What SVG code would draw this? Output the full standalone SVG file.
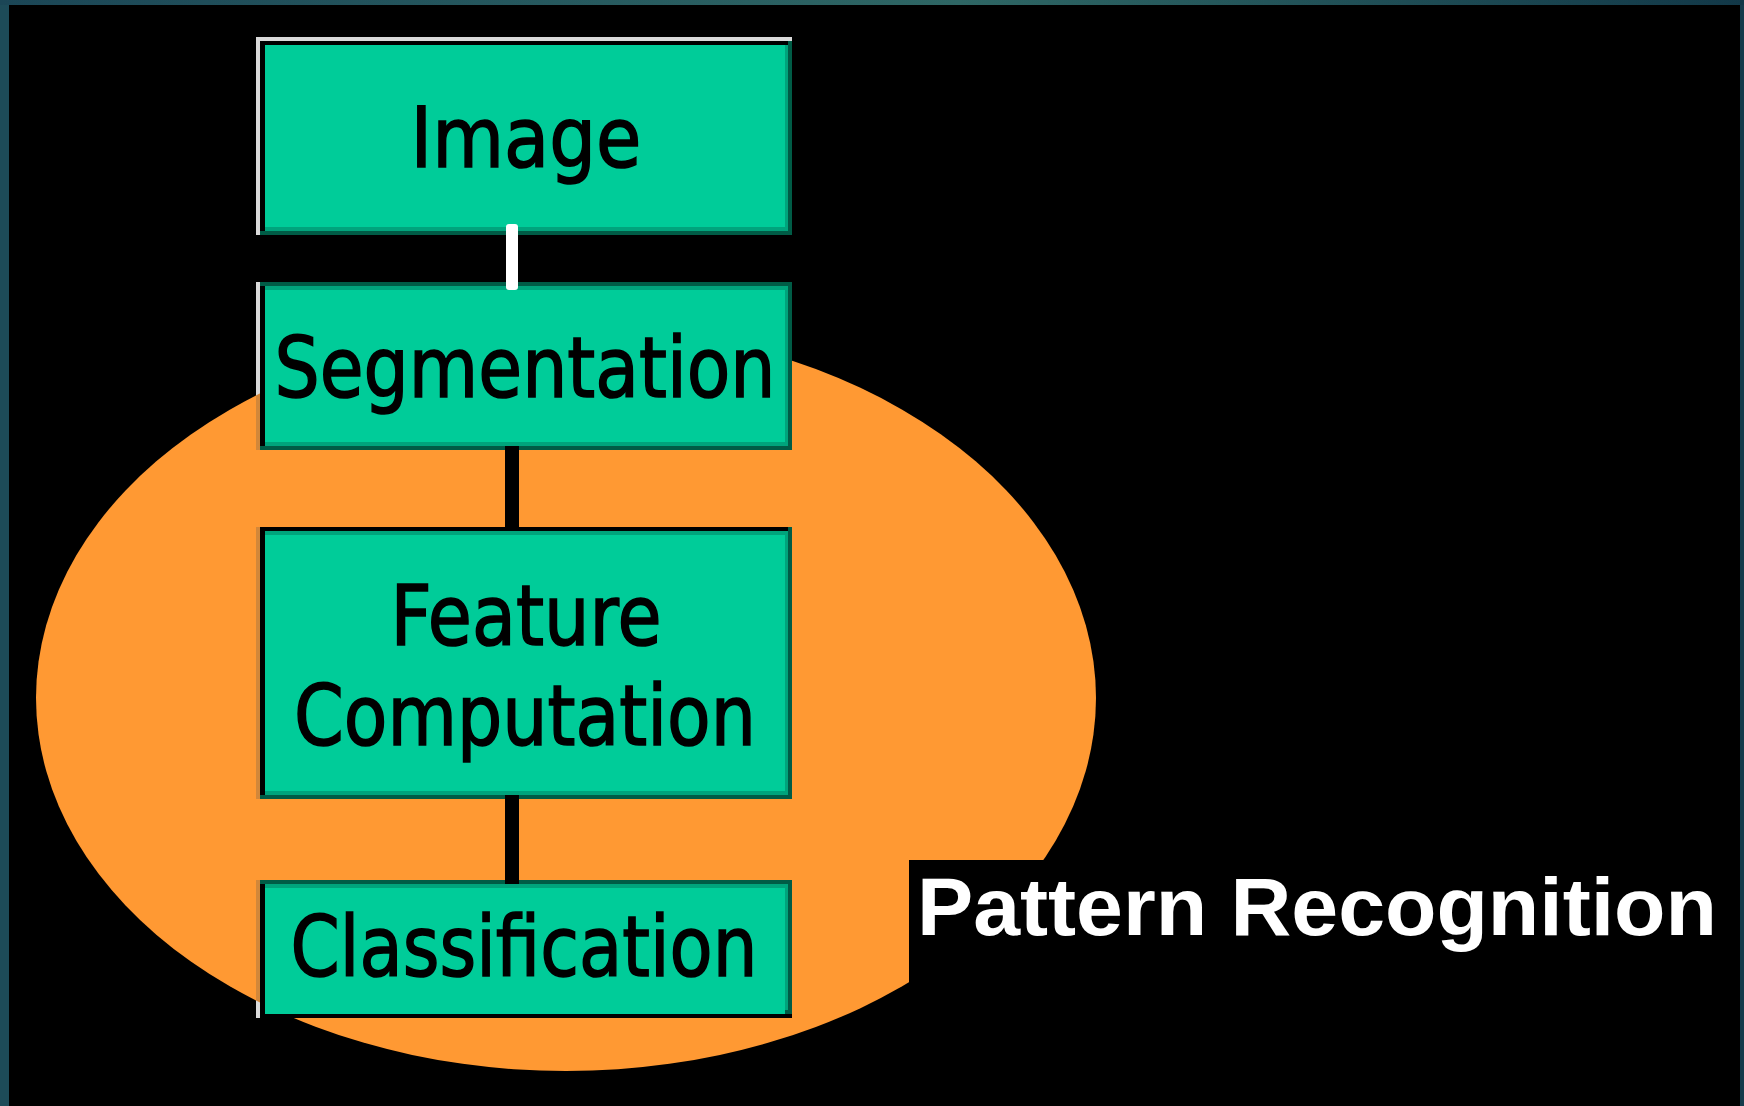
<svg xmlns="http://www.w3.org/2000/svg" width="1744" height="1106" viewBox="0 0 1744 1106">
  <defs>
    <linearGradient id="frameTop" x1="0" y1="0" x2="1" y2="0">
      <stop offset="0" stop-color="#1b4656"/>
      <stop offset="0.55" stop-color="#2e6664"/>
      <stop offset="1" stop-color="#123848"/>
    </linearGradient>
    <clipPath id="ovalClip">
      <ellipse cx="566" cy="698" rx="530" ry="373"/>
    </clipPath>
    <style>
      .edge-dark { fill: #005c46; }
      .edge-mid { fill: #00a47c; }
      .face { fill: #00cc99; }
      .rim-light { fill: #dadada; }
      .rim-shade { fill: #d2873a; }
      .rim-black { fill: #000000; }
      .node-text { font-family: "DejaVu Sans", "Noto Sans", sans-serif; font-size: 84px; fill: #000000; stroke: #000000; stroke-width: 1.6px; text-anchor: middle; }
      .title-text { font-family: "Liberation Sans", Arial, sans-serif; font-weight: bold; font-size: 81px; fill: #ffffff; }
      .link-white { fill: #ffffff; }
      .link-black { fill: #000000; }
    </style>
  </defs>

  <!-- page background and frame -->
  <rect x="0" y="0" width="1744" height="1106" fill="#000000"/>
  <rect x="0" y="0" width="9" height="1106" fill="#1d4b58"/>
  <rect x="1740" y="0" width="4" height="1106" fill="#153b4b"/>
  <rect x="0" y="0" width="1744" height="5" fill="url(#frameTop)"/>

  <!-- orange region behind the pipeline -->
  <ellipse id="region" cx="566" cy="698" rx="530" ry="373" fill="#ff9933"/>

  <!-- caption with its black backing -->
  <g id="caption">
    <rect x="909" y="860" width="831" height="246" fill="#000000"/>
    <text class="title-text" x="917" y="935" textLength="800" lengthAdjust="spacingAndGlyphs">Pattern Recognition</text>
  </g>

  <!-- Image -->
  <g id="node-image">
    <rect class="edge-dark" x="256" y="37" width="536" height="198"/>
    <rect class="edge-mid" x="260" y="41" width="528" height="190"/>
    <rect class="face" x="265" y="45" width="520" height="182"/>
    <rect class="rim-light" x="256" y="37" width="536" height="4"/>
    <rect class="rim-black" x="260" y="41" width="528" height="4"/>
    <rect class="rim-light" x="256" y="37" width="4" height="198"/>
    <rect class="rim-black" x="260" y="41" width="5" height="190"/>
    <text class="node-text" x="526" y="167" textLength="231" lengthAdjust="spacingAndGlyphs">Image</text>
  </g>

  <!-- Segmentation -->
  <g id="node-segmentation">
    <rect class="edge-dark" x="256" y="282" width="536" height="168"/>
    <rect class="edge-mid" x="260" y="286" width="528" height="160"/>
    <rect class="face" x="265" y="290" width="520" height="152"/>
    <rect class="rim-light" x="256" y="282" width="4" height="168"/>
    <rect class="rim-shade" x="256" y="282" width="4" height="168" clip-path="url(#ovalClip)"/>
    <rect class="rim-black" x="260" y="286" width="5" height="160"/>
    <text class="node-text" x="525" y="397" textLength="501" lengthAdjust="spacingAndGlyphs">Segmentation</text>
  </g>

  <!-- Feature Computation -->
  <g id="node-feature">
    <rect class="edge-dark" x="256" y="527" width="536" height="272"/>
    <rect class="edge-mid" x="260" y="531" width="528" height="264"/>
    <rect class="face" x="265" y="535" width="520" height="256"/>
    <rect class="rim-shade" x="256" y="527" width="4" height="272"/>
    <rect class="rim-black" x="260" y="527" width="5" height="268"/>
    <rect class="rim-black" x="260" y="527" width="528" height="4"/>
    <text class="node-text" x="526" y="645" textLength="271" lengthAdjust="spacingAndGlyphs">Feature</text>
    <text class="node-text" x="525" y="745" textLength="462" lengthAdjust="spacingAndGlyphs">Computation</text>
  </g>

  <!-- Classification -->
  <g id="node-classification">
    <rect class="rim-black" x="256" y="880" width="536" height="138"/>
    <rect class="edge-dark" x="260" y="880" width="532" height="134"/>
    <rect class="edge-mid" x="260" y="884" width="528" height="126"/>
    <rect class="face" x="265" y="888" width="520" height="126"/>
    <rect class="rim-light" x="256" y="880" width="4" height="138"/>
    <rect class="rim-shade" x="256" y="880" width="4" height="138" clip-path="url(#ovalClip)"/>
    <rect class="rim-black" x="260" y="884" width="5" height="134"/>
    <text class="node-text" x="524" y="976" textLength="467" lengthAdjust="spacingAndGlyphs">Classification</text>
  </g>

  <!-- connectors -->
  <g id="connectors">
    <rect class="link-white" x="506" y="224" width="12" height="66" rx="3"/>
    <rect class="link-black" x="505" y="446" width="14" height="85"/>
    <rect class="link-black" x="505" y="795" width="14" height="89"/>
  </g>
</svg>
